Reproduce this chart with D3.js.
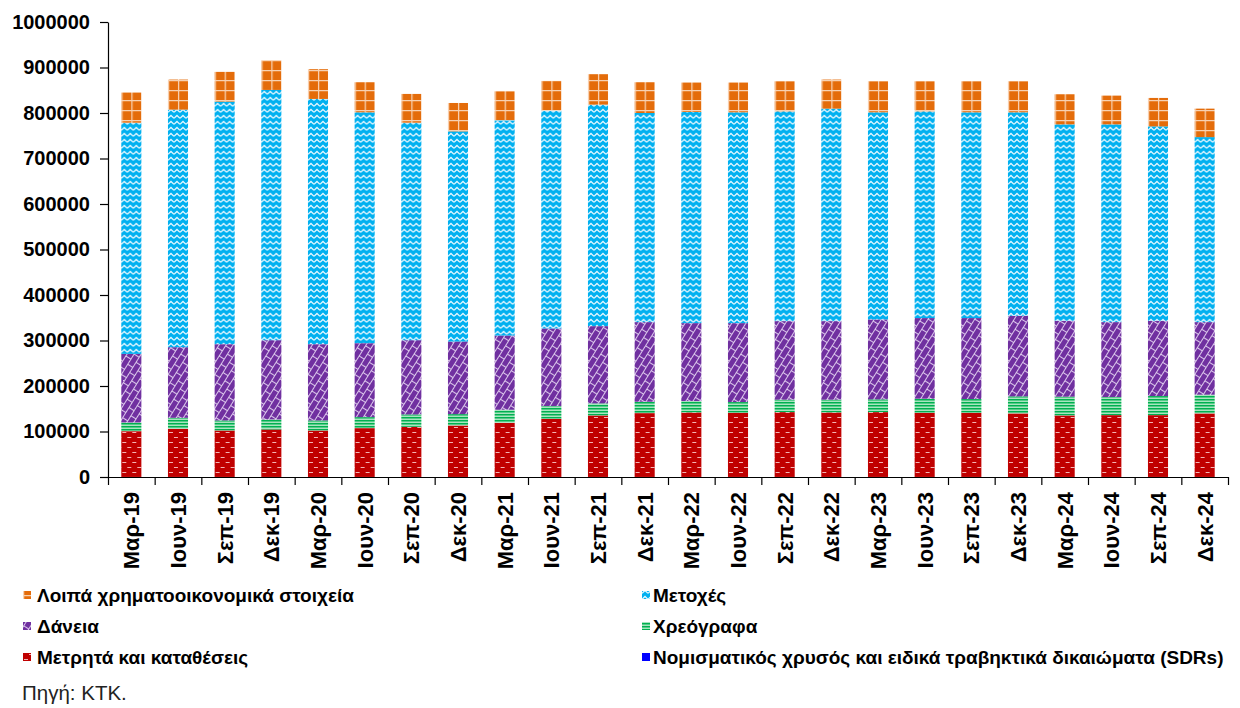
<!DOCTYPE html>
<html>
<head>
<meta charset="utf-8">
<script src="https://cdn.jsdelivr.net/npm/d3@7"></script>
<style>
  body { margin: 0; background: #fff; }
  svg { font-family: "Liberation Sans", Arial, sans-serif; }
</style>
</head>
<body>
<svg id="chart" width="1240" height="708"></svg>
<script>
// quarters
const categories = ["Μαρ-19","Ιουν-19","Σεπ-19","Δεκ-19","Μαρ-20","Ιουν-20","Σεπ-20","Δεκ-20",
  "Μαρ-21","Ιουν-21","Σεπ-21","Δεκ-21","Μαρ-22","Ιουν-22","Σεπ-22","Δεκ-22",
  "Μαρ-23","Ιουν-23","Σεπ-23","Δεκ-23","Μαρ-24","Ιουν-24","Σεπ-24","Δεκ-24"];

// series, bottom to top
const gold     = [100,100,100,100,100,100,100,100,100,100,100,100,100,100,100,100,100,100,100,100,100,100,100,100];
const cash     = [100600,105800,102100,104300,102100,107300,110200,113100,119000,127800,135200,140300,
                  141800,141100,142500,141800,142500,141100,141100,139600,135200,135900,135900,139600];
const bonds    = [19200,24200,22100,22100,22100,24200,27200,25000,28700,28000,26500,25000,
                  25000,23500,27300,28000,28000,30900,30100,37500,41200,39700,41900,41200];
const loans    = [150700,155200,167600,174200,167600,162500,163200,159600,163200,170600,169800,175000,
                  171300,173500,172700,172700,175700,177200,178000,177200,166900,164700,165500,159500];
const shares   = [508100,522100,533100,550000,539000,507400,478000,461800,472800,478600,486800,459600,
                  464000,463300,461100,467000,455200,454400,452200,447100,431600,434600,427200,406600];
const other    = [66200,66100,65400,65500,65400,66100,63200,62400,64000,65500,66900,67600,
                  64700,65400,66200,63900,68400,66200,68400,68400,66200,63200,62500,62600];

const yTicks = [0,100000,200000,300000,400000,500000,600000,700000,800000,900000,1000000];

const seriesKeys = ["gold","cash","bonds","loans","shares","other"];
const seriesNames = {
  other: "Λοιπά χρηματοοικονομικά στοιχεία",
  shares: "Μετοχές",
  loans: "Δάνεια",
  bonds: "Χρεόγραφα",
  cash: "Μετρητά και καταθέσεις",
  gold: "Νομισματικός χρυσός και ειδικά τραβηκτικά  δικαιώματα (SDRs)"
};
const legendOrder = ["other","shares","loans","bonds","cash","gold"];

const table = categories.map((c, i) => ({
  cat: c, gold: gold[i], cash: cash[i], bonds: bonds[i],
  loans: loans[i], shares: shares[i], other: other[i]
}));

const svg = d3.select("#chart");
const mLeft = 108, mRight = 1228, mTop = 22, mBottom = 477;

const x = d3.scaleBand().domain(categories).range([mLeft, mRight])
  .paddingInner(0.57).paddingOuter(0.285);
const xb = d3.scaleLinear().domain([0, categories.length]).range([mLeft, mRight]);
const y = d3.scaleLinear().domain([0, 1000000]).range([mBottom, mTop]);

// patterns
const defs = svg.append("defs");

let p = defs.append("pattern").attr("id", "p-other").attr("patternUnits", "userSpaceOnUse")
  .attr("width", 10).attr("height", 10);
p.append("rect").attr("width", 10).attr("height", 10).attr("fill", "#E46C0A");
p.append("path").attr("d", "M0,0.5H10M0.5,0V10").attr("stroke", "#F8D2B2").attr("stroke-width", 1.5);

p = defs.append("pattern").attr("id", "p-shares").attr("patternUnits", "userSpaceOnUse")
  .attr("width", 6).attr("height", 6);
p.append("rect").attr("width", 6).attr("height", 6).attr("fill", "#00B0F0");
p.append("path").attr("d", "M0,4.3L3,1.5L6,4.3").attr("fill", "none")
  .attr("stroke", "#E8F8FF").attr("stroke-width", 1.3);

p = defs.append("pattern").attr("id", "p-loans").attr("patternUnits", "userSpaceOnUse")
  .attr("width", 12).attr("height", 12).attr("patternTransform", "rotate(-58)");
p.append("rect").attr("width", 12).attr("height", 12).attr("fill", "#7030A0");
p.append("path").attr("d", "M0,0.5H12M0,6.5H12M0.5,0.5V6.5M6.5,6.5V12")
  .attr("stroke", "#DCC8EC").attr("stroke-width", 1.1);

p = defs.append("pattern").attr("id", "p-bonds").attr("patternUnits", "userSpaceOnUse")
  .attr("width", 4).attr("height", 3);
p.append("rect").attr("width", 4).attr("height", 3).attr("fill", "#A8E4BF");
p.append("rect").attr("width", 4).attr("height", 1.5).attr("fill", "#00B050");

p = defs.append("pattern").attr("id", "p-cash").attr("patternUnits", "userSpaceOnUse")
  .attr("width", 10).attr("height", 10);
p.append("rect").attr("width", 10).attr("height", 10).attr("fill", "#C00000");
p.append("path").attr("d", "M1,2.5H5M6,7.5H10").attr("stroke", "#F3B4B4").attr("stroke-width", 1.2);

p = defs.append("pattern").attr("id", "p-gold").attr("patternUnits", "userSpaceOnUse")
  .attr("width", 4).attr("height", 4);
p.append("rect").attr("width", 4).attr("height", 4).attr("fill", "#0000FF");

// stacked bars
const stacked = d3.stack().keys(seriesKeys)(table);

const cols = svg.append("g")
  .selectAll("g")
  .data(table)
  .join("g")
  .attr("transform", d => `translate(${x(d.cat)},0)`);

cols.selectAll("rect")
  .data((d, i) => stacked.map(s => ({key: s.key, v: s[i]})))
  .join("rect")
  .attr("x", 0)
  .attr("width", x.bandwidth())
  .attr("y", d => y(d.v[1]))
  .attr("height", d => y(d.v[0]) - y(d.v[1]))
  .attr("fill", d => `url(#p-${d.key})`);

// y axis
const yAxis = svg.append("g")
  .attr("transform", `translate(${mLeft},0)`)
  .call(d3.axisLeft(y).tickValues(yTicks).tickSize(8).tickSizeOuter(0).tickPadding(10)
    .tickFormat(d3.format("d")));
yAxis.selectAll("text").attr("font-size", 20).attr("font-weight", "bold").attr("fill", "#000")
  .attr("font-family", "Liberation Sans, Arial, sans-serif");
yAxis.selectAll("line, path").attr("stroke", "#000").attr("stroke-width", 1.2);

// x axis boundary ticks
const xAxis = svg.append("g")
  .attr("transform", `translate(0,${mBottom})`)
  .call(d3.axisBottom(xb).tickValues(d3.range(categories.length + 1)).tickSize(8)
    .tickSizeOuter(0).tickFormat(""));
xAxis.selectAll("line, path").attr("stroke", "#000").attr("stroke-width", 1.2);

// x labels
const xLab = svg.append("g")
  .attr("transform", `translate(0,${mBottom})`)
  .call(d3.axisBottom(x).tickSize(0).tickSizeOuter(0));
xLab.select(".domain").remove();
xLab.selectAll("text")
  .attr("transform", "rotate(-90)")
  .attr("text-anchor", "end")
  .attr("x", -15).attr("y", 0).attr("dy", "0.36em")
  .attr("font-size", 22).attr("font-weight", "bold").attr("fill", "#000")
  .attr("font-family", "Liberation Sans, Arial, sans-serif");

// legend
const legend = svg.append("g")
  .selectAll("g")
  .data(legendOrder)
  .join("g")
  .attr("transform", (d, i) => `translate(${i % 2 ? 642 : 23},${595 + Math.floor(i / 2) * 31})`);
legend.append("rect")
  .attr("x", 0).attr("y", -4).attr("width", 8).attr("height", 8)
  .attr("fill", d => `url(#p-${d})`);
legend.append("text")
  .attr("x", (d, i) => i % 2 ? 11 : 14)
  .attr("dy", "0.35em")
  .attr("font-size", 19).attr("font-weight", "bold").attr("fill", "#000")
  .text(d => seriesNames[d]);

svg.append("text")
  .attr("x", 22).attr("y", 693).attr("dy", "0.35em")
  .attr("font-size", 20.5).attr("fill", "#222")
  .text("Πηγή: ΚΤΚ.");
</script>
</body>
</html>
